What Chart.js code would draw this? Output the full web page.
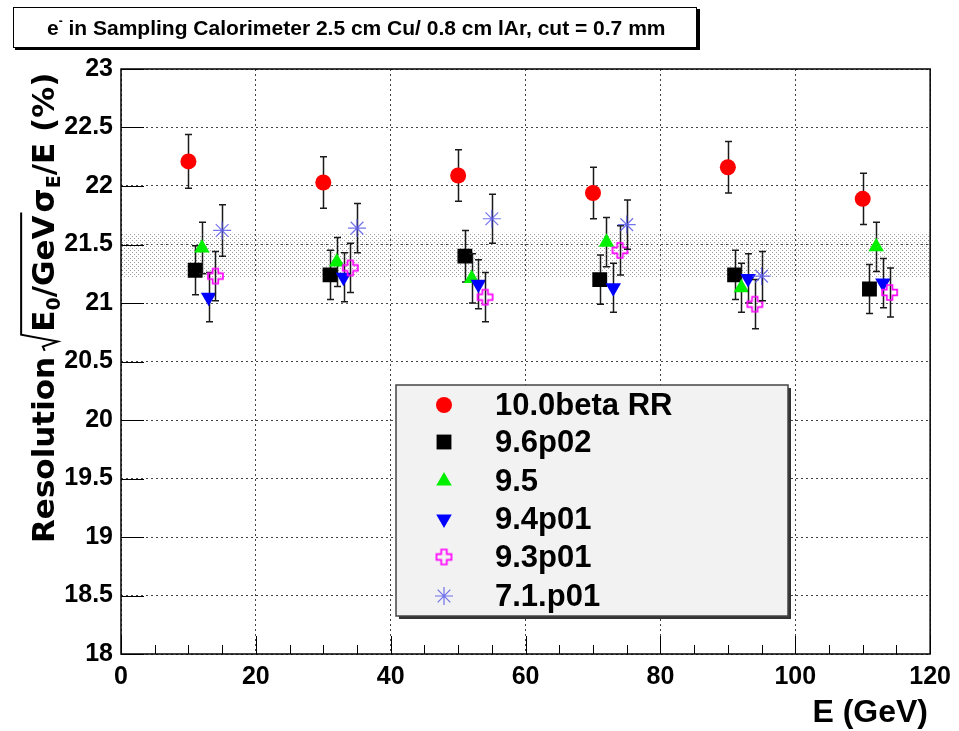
<!DOCTYPE html>
<html>
<head>
<meta charset="utf-8">
<script src="https://cdn.jsdelivr.net/npm/chart.js@4.4.1/dist/chart.umd.min.js"></script>
<style>
  body { margin: 0; background: #fff; }
</style>
</head>
<body>
<canvas id="resChart" width="959" height="731"></canvas>
<script>
// series labels (Geant4 versions)
var seriesNames = ["10.0beta RR", "9.6p02", "9.5", "9.4p01", "9.3p01", "7.1.p01"];

// energy (GeV), resolution (%), error (%) per version
var e_100beta = [10, 30, 50, 70, 90, 110];
var res_100beta = [22.21, 22.03, 22.09, 21.94, 22.16, 21.89];
var err_100beta = [0.23, 0.22, 0.22, 0.22, 0.22, 0.22];

var e_96p02 = [11, 31, 51, 71, 91, 111];
var res_96p02 = [21.28, 21.24, 21.40, 21.20, 21.24, 21.12];
var err_96p02 = [0.21, 0.21, 0.22, 0.21, 0.21, 0.21];

var e_95 = [12, 32, 52, 72, 92, 112];
var res_95 = [21.47, 21.35, 21.21, 21.52, 21.13, 21.48];
var err_95 = [0.22, 0.21, 0.21, 0.21, 0.21, 0.21];

var e_94p01 = [13, 33, 53, 73, 93, 113];
var res_94p01 = [21.05, 21.22, 21.16, 21.13, 21.21, 21.17];
var err_94p01 = [0.21, 0.21, 0.21, 0.21, 0.21, 0.21];

var e_93p01 = [14, 34, 54, 74, 94, 114];
var res_93p01 = [21.23, 21.30, 21.05, 21.45, 20.99, 21.09];
var err_93p01 = [0.21, 0.21, 0.21, 0.21, 0.21, 0.21];

var e_71p01 = [15, 35, 55, 75, 95];
var res_71p01 = [21.62, 21.64, 21.72, 21.67, 21.23];
var err_71p01 = [0.22, 0.21, 0.21, 0.21, 0.21];

// shaded reference band
var bandLow = 21.22;
var bandHigh = 21.60;

// axis ticks
var xTickValues = [0, 20, 40, 60, 80, 100, 120];
var yTickValues = [18, 18.5, 19, 19.5, 20, 20.5, 21, 21.5, 22, 22.5, 23];

var allE = [e_100beta, e_96p02, e_95, e_94p01, e_93p01, e_71p01];
var allRes = [res_100beta, res_96p02, res_95, res_94p01, res_93p01, res_71p01];
var allErr = [err_100beta, err_96p02, err_95, err_94p01, err_93p01, err_71p01];

var FONT = '"Liberation Sans", Arial, sans-serif';
var WIDE = '"DejaVu Sans", sans-serif';

function openCross(color) {
    var c = document.createElement("canvas");
    c.width = 19; c.height = 19;
    var g = c.getContext("2d");
    var m = 9.5, s = 7.5, a = 2.8;
    g.beginPath();
    g.moveTo(m - a, m - s); g.lineTo(m + a, m - s); g.lineTo(m + a, m - a);
    g.lineTo(m + s, m - a); g.lineTo(m + s, m + a); g.lineTo(m + a, m + a);
    g.lineTo(m + a, m + s); g.lineTo(m - a, m + s); g.lineTo(m - a, m + a);
    g.lineTo(m - s, m + a); g.lineTo(m - s, m - a); g.lineTo(m - a, m - a);
    g.closePath();
    g.strokeStyle = color;
    g.lineWidth = 1.7;
    g.stroke();
    return c;
}

var markerStyles = [
    { pointStyle: "circle", radius: 8, bg: "#ff0000", border: "#ff0000", bw: 0, rot: 0 },
    { pointStyle: "rect", radius: 10.5, bg: "#000000", border: "#000000", bw: 0, rot: 0 },
    { pointStyle: "triangle", radius: 9, bg: "#00f000", border: "#00f000", bw: 0, rot: 0 },
    { pointStyle: "triangle", radius: 9, bg: "#0000ff", border: "#0000ff", bw: 0, rot: 180 },
    { pointStyle: openCross("#ff00ff"), radius: 8, bg: "#ff00ff", border: "#ff00ff", bw: 0, rot: 0 },
    { pointStyle: "star", radius: 9, bg: "rgba(90,90,235,0.85)", border: "rgba(90,90,235,0.85)", bw: 1.2, rot: 0 }
];

var datasets = seriesNames.map(function (name, i) {
    var st = markerStyles[i];
    return {
        label: name,
        data: allE[i].map(function (x, j) { return { x: x, y: allRes[i][j] }; }),
        pointStyle: st.pointStyle,
        pointRadius: st.radius,
        pointRotation: st.rot,
        backgroundColor: st.bg,
        borderColor: st.border,
        pointBorderWidth: st.bw,
        showLine: false,
        order: seriesNames.length - i
    };
});

// dotted pattern for the band
function dotPattern(ctx) {
    var p = document.createElement("canvas");
    p.width = 4; p.height = 4;
    var g = p.getContext("2d");
    g.fillStyle = "#9a9a9a";
    g.fillRect(0, 0, 1, 1);
    g.fillRect(2, 2, 1, 1);
    return ctx.createPattern(p, "repeat");
}

var bandPlugin = {
    id: "band",
    beforeDatasetsDraw: function (chart) {
        var ctx = chart.ctx, ca = chart.chartArea, y = chart.scales.y;
        var top = y.getPixelForValue(bandHigh), bot = y.getPixelForValue(bandLow);
        ctx.save();
        ctx.fillStyle = dotPattern(ctx);
        ctx.fillRect(ca.left, top, ca.right - ca.left, bot - top);
        ctx.restore();
    }
};

var errorBarPlugin = {
    id: "errorBars",
    beforeDatasetDraw: function (chart, args) {
        var i = args.index, ctx = chart.ctx;
        var xs = chart.scales.x, ys = chart.scales.y;
        ctx.save();
        ctx.strokeStyle = "#1a1a1a";
        ctx.lineWidth = 1.5;
        allE[i].forEach(function (e, j) {
            var px = Math.round(xs.getPixelForValue(e)) + 0.5;
            var yt = ys.getPixelForValue(allRes[i][j] + allErr[i][j]);
            var yb = ys.getPixelForValue(allRes[i][j] - allErr[i][j]);
            ctx.beginPath();
            ctx.moveTo(px, yt); ctx.lineTo(px, yb);
            ctx.moveTo(px - 3.5, yt); ctx.lineTo(px + 3.5, yt);
            ctx.moveTo(px - 3.5, yb); ctx.lineTo(px + 3.5, yb);
            ctx.stroke();
        });
        ctx.restore();
    }
};

var framePlugin = {
    id: "frame",
    afterDatasetsDraw: function (chart) {
        var ctx = chart.ctx, ca = chart.chartArea;
        var xs = chart.scales.x, ys = chart.scales.y;
        ctx.save();
        ctx.strokeStyle = "#000";
        ctx.lineWidth = 1;
        // inward ticks on y
        yTickValues.forEach(function (v) {
            var py = Math.round(ys.getPixelForValue(v)) + 0.5;
            ctx.beginPath(); ctx.moveTo(ca.left, py); ctx.lineTo(ca.left + 23, py); ctx.stroke();
        });
        // inward ticks on x, minor every 5 GeV
        for (var v = 0; v <= 120; v += 5) {
            var px = Math.round(xs.getPixelForValue(v)) + 0.5;
            var len = (v % 20 === 0) ? 18 : 9;
            ctx.beginPath(); ctx.moveTo(px, ca.bottom); ctx.lineTo(px, ca.bottom - len); ctx.stroke();
        }
        ctx.lineWidth = 1.5;
        ctx.strokeRect(ca.left, ca.top, ca.right - ca.left, ca.bottom - ca.top);
        ctx.restore();
    }
};

var textPlugin = {
    id: "texts",
    afterDraw: function (chart) {
        var ctx = chart.ctx;
        ctx.save();

        // title box
        ctx.fillStyle = "#000";
        ctx.fillRect(15, 9, 685, 41);
        ctx.fillStyle = "#fff";
        ctx.fillRect(13, 7, 684, 41);
        ctx.strokeStyle = "#000";
        ctx.lineWidth = 1;
        ctx.strokeRect(13.5, 7.5, 683, 40);
        ctx.fillStyle = "#000";
        ctx.textBaseline = "alphabetic";
        ctx.textAlign = "left";
        ctx.font = "bold 21px " + FONT;
        ctx.fillText("e", 47, 35);
        var tx = 47 + ctx.measureText("e").width;
        ctx.font = "bold 12px " + FONT;
        ctx.fillText("-", tx, 25);
        tx += ctx.measureText("-").width;
        ctx.font = "bold 21px " + FONT;
        ctx.fillText(" in Sampling Calorimeter 2.5 cm Cu/ 0.8 cm lAr, cut = 0.7 mm", tx, 35);

        // x title
        ctx.font = "bold 32px " + FONT;
        ctx.textAlign = "right";
        ctx.fillText("E (GeV)", 928, 722);

        // y title, rotated
        ctx.save();
        ctx.translate(54, 543);
        ctx.rotate(-Math.PI / 2);
        ctx.textAlign = "left";
        var fs = 31;
        var big = "bold " + fs + "px " + WIDE;
        var small = "bold " + Math.round(fs * 0.62) + "px " + WIDE;
        var x = 0;
        function put(txt, font, dy) {
            ctx.font = font;
            ctx.fillText(txt, x, dy);
            x += ctx.measureText(txt).width;
        }
        put("Resolution", big, 0);
        x += 6;
        var r0 = x;
        x += fs * 0.62;
        put("E", big, 0);
        put("0", small, fs * 0.2);
        put("/GeV", big, 0);
        var ovEnd = x + 3;
        ctx.strokeStyle = "#000";
        ctx.lineWidth = 2;
        ctx.beginPath();
        ctx.moveTo(r0, -fs * 0.3);
        ctx.lineTo(r0 + fs * 0.14, -fs * 0.36);
        ctx.lineTo(r0 + fs * 0.3, fs * 0.12);
        ctx.lineTo(r0 + fs * 0.52, -fs * 1.06);
        ctx.lineTo(ovEnd, -fs * 1.06);
        ctx.stroke();
        x += 3;
        put("\u03c3", big, 0);
        put("E", small, fs * 0.2);
        put("/E (%)", big, 0);
        ctx.restore();

        // legend box
        var lx = 396, ly = 385, lw = 392, lh = 231;
        ctx.fillStyle = "#333";
        ctx.fillRect(lx + 3, ly + 3, lw, lh);
        ctx.fillStyle = "#f2f2f2";
        ctx.fillRect(lx, ly, lw, lh);
        ctx.strokeStyle = "#444";
        ctx.lineWidth = 1.5;
        ctx.strokeRect(lx, ly, lw, lh);
        var rowY = [405, 442, 481, 519, 557, 596];
        ctx.textAlign = "left";
        ctx.textBaseline = "middle";
        chart.data.datasets.forEach(function (ds, i) {
            var st = markerStyles[i];
            ctx.fillStyle = st.bg;
            ctx.strokeStyle = st.border;
            ctx.lineWidth = st.bw;
            Chart.helpers.drawPoint(ctx, {
                pointStyle: st.pointStyle, radius: st.radius, rotation: st.rot, borderWidth: st.bw
            }, 444, rowY[i]);
            ctx.fillStyle = "#000";
            ctx.font = "bold 31px " + FONT;
            ctx.fillText(ds.label, 495, rowY[i] + 1);
        });
        ctx.restore();
    }
};

var gridStyle = { color: "#444", lineWidth: 1, drawTicks: false };
var tickFont = { family: FONT, weight: "bold", size: 25 };
function plainNumber(v) { return String(v); }

new Chart(document.getElementById("resChart"), {
    type: "scatter",
    data: { datasets: datasets },
    options: {
        responsive: false,
        animation: false,
        devicePixelRatio: 1,
        events: [],
        layout: { padding: { top: 69, right: 26, left: 0, bottom: 0 } },
        plugins: { legend: { display: false }, tooltip: { enabled: false } },
        scales: {
            x: {
                type: "linear", min: 0, max: 120,
                afterBuildTicks: function (s) { s.ticks = xTickValues.map(function (v) { return { value: v }; }); },
                afterFit: function (s) { s.height = 77; },
                grid: gridStyle,
                border: { display: false, dash: [2, 3] },
                ticks: { color: "#000", padding: 8, font: tickFont, maxRotation: 0, callback: plainNumber }
            },
            y: {
                type: "linear", min: 18, max: 23,
                afterBuildTicks: function (s) { s.ticks = yTickValues.map(function (v) { return { value: v }; }); },
                afterFit: function (s) { s.width = 121; },
                grid: gridStyle,
                border: { display: false, dash: [2, 3] },
                ticks: { color: "#000", padding: 8, font: tickFont, callback: plainNumber }
            }
        }
    },
    plugins: [bandPlugin, errorBarPlugin, framePlugin, textPlugin]
});
</script>
</body>
</html>
